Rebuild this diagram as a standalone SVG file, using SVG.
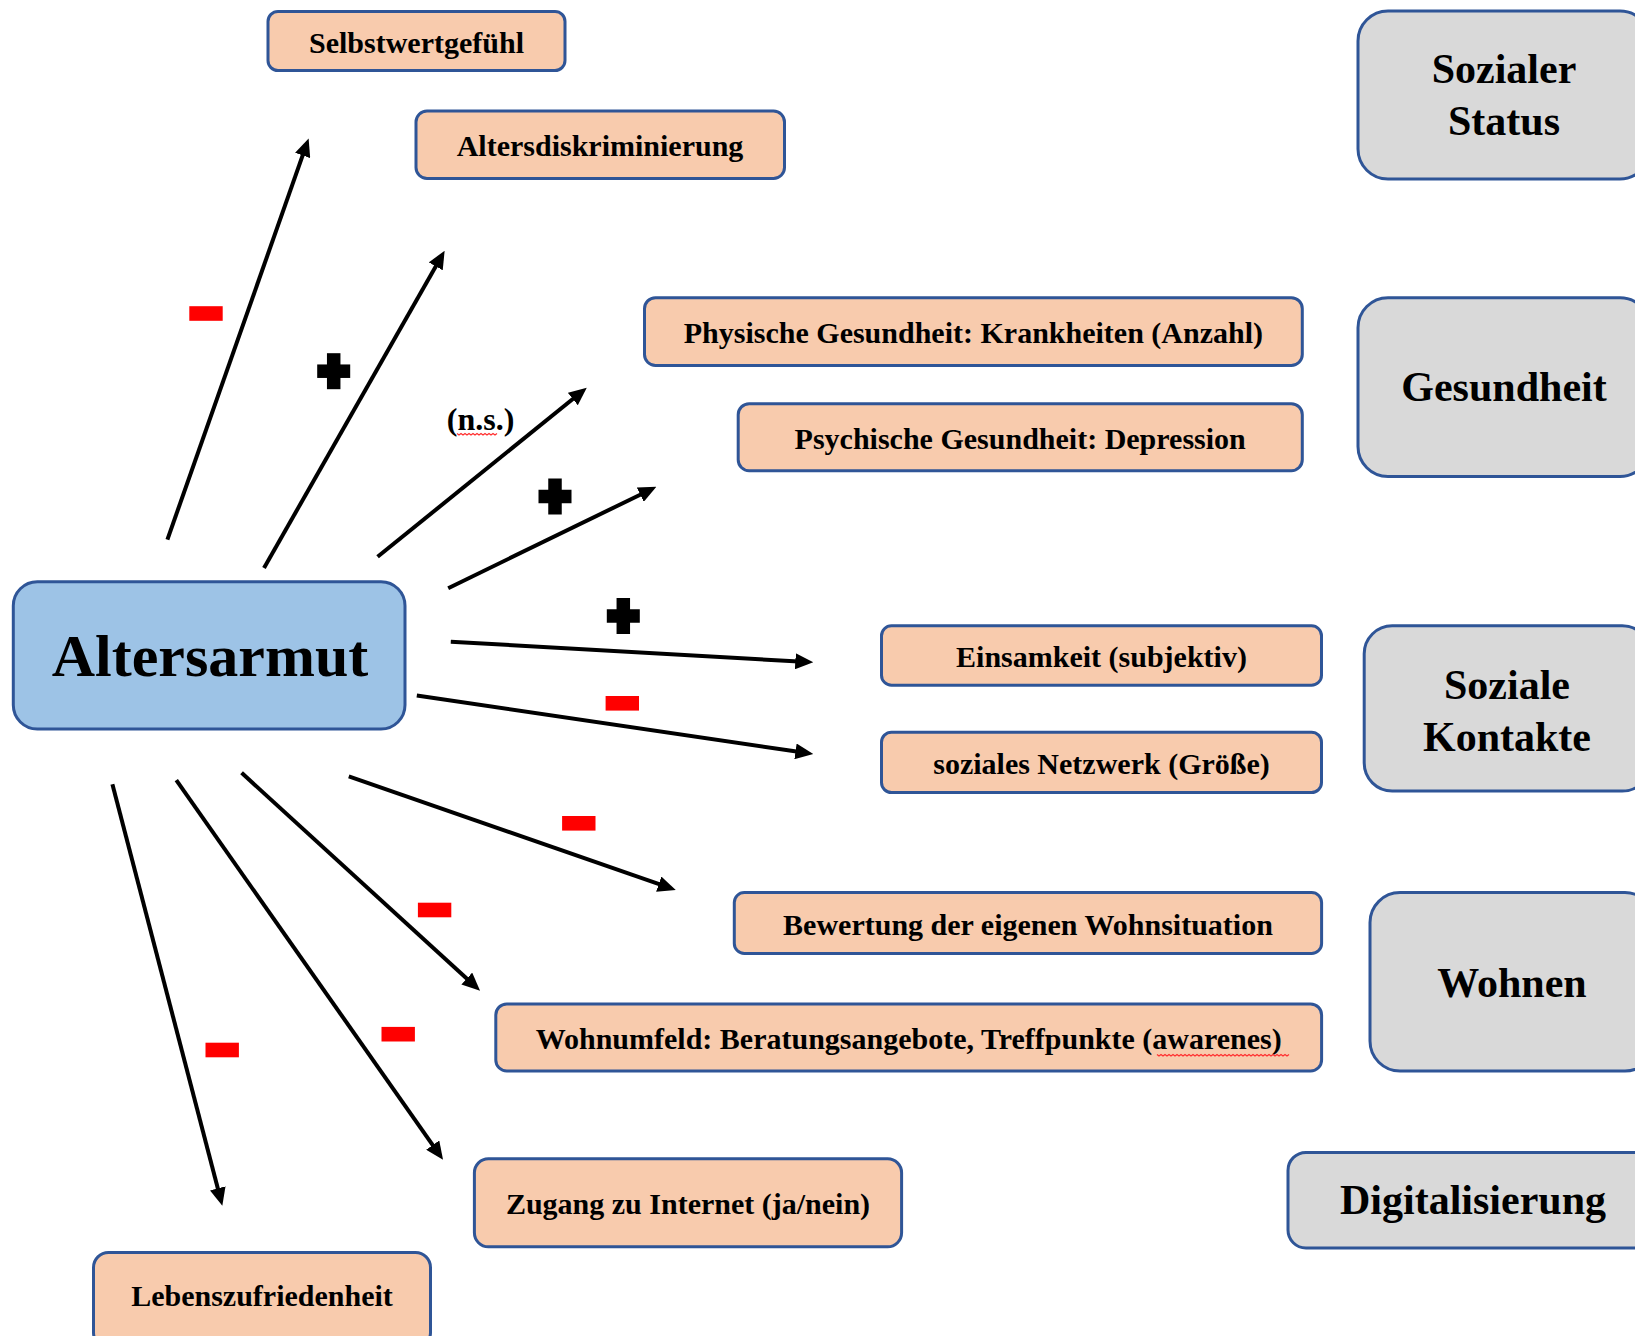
<svg xmlns="http://www.w3.org/2000/svg" xmlns:xlink="http://www.w3.org/1999/xlink" width="1635" height="1336" viewBox="0 0 1635 1336">
<style>
.ob{fill:#F8CBAD;stroke:#2F5597;stroke-width:3}
.gb{fill:#D9D9D9;stroke:#2F5597;stroke-width:3}
.bb{fill:#9DC3E6;stroke:#2F5597;stroke-width:3}
.t{font-family:"Liberation Serif","Times New Roman",serif;font-weight:bold;fill:#000;text-anchor:middle}
.ot{font-size:30px}
.gt{font-size:42px}
.mt{font-size:60px}
.c{fill:none;stroke:#000;stroke-width:4;marker-end:url(#ah)}
.sq{fill:none;stroke:#FF3030;stroke-width:1.2}
</style>
<defs>
<marker id="ah" markerUnits="userSpaceOnUse" markerWidth="18" markerHeight="16" refX="8" refY="8" orient="auto">
<path d="M0,0 L18,8 L0,16 Z" fill="#000"/>
</marker>
<g id="plus"><rect x="-16.5" y="-6.75" width="33" height="13.5" fill="#000"/><rect x="-6.75" y="-18" width="13.5" height="36" fill="#000"/></g>
<rect id="minus" x="-16.7" y="-7.3" width="33.4" height="14.6" fill="#FF0000"/>
</defs>
<rect width="1635" height="1336" fill="#FFFFFF"/>

<g id="connectors">
<line class="c" x1="167.4" y1="539.6" x2="305.3" y2="147.9"/>
<line class="c" x1="264" y1="568" x2="439.7" y2="259.4"/>
<line class="c" x1="377.6" y1="556.8" x2="579.0" y2="394.0"/>
<line class="c" x1="448.2" y1="588.2" x2="647.4" y2="491.2"/>
<line class="c" x1="450.8" y1="641.7" x2="803.3" y2="661.8"/>
<line class="c" x1="416.8" y1="695.5" x2="803.4" y2="752.6"/>
<line class="c" x1="348.8" y1="776.3" x2="666.3" y2="886.7"/>
<line class="c" x1="241.6" y1="772.8" x2="472.7" y2="983.9"/>
<line class="c" x1="176.3" y1="780.2" x2="437.3" y2="1151.6"/>
<line class="c" x1="112.4" y1="784.2" x2="219.8" y2="1196.1"/>
</g>

<g id="signs">
<use xlink:href="#minus" x="206" y="313.5"/>
<use xlink:href="#plus" x="333.7" y="371.2"/>
<use xlink:href="#plus" x="555" y="496.5"/>
<use xlink:href="#plus" x="623.3" y="616"/>
<use xlink:href="#minus" x="622.3" y="703.3"/>
<use xlink:href="#minus" x="578.8" y="823.3"/>
<use xlink:href="#minus" x="434.6" y="910"/>
<use xlink:href="#minus" x="398.2" y="1034.2"/>
<use xlink:href="#minus" x="222.2" y="1050"/>
<g id="label-ns">
<text class="t" x="480.5" y="430" style="font-size:32px">(n.s.)</text>
<path class="sq" d="M457,433.5 l2,1.5 l2,-1.5 l2,1.5 l2,-1.5 l2,1.5 l2,-1.5 l2,1.5 l2,-1.5 l2,1.5 l2,-1.5 l2,1.5 l2,-1.5 l2,1.5 l2,-1.5 l2,1.5 l2,-1.5 l2,1.5 l2,-1.5 l2,1.5 l2,-1.5"/>
</g>
</g>

<g id="node-altersarmut">
<rect class="bb" x="13.3" y="581.7" width="391.7" height="147.3" rx="24"/>
<text class="t mt" x="210" y="676">Altersarmut</text>
</g>

<g id="node-selbstwert">
<rect class="ob" x="268" y="11.5" width="297" height="59" rx="10"/>
<text class="t ot" x="416.5" y="52.5">Selbstwertgefühl</text>
</g>
<g id="node-altersdiskriminierung">
<rect class="ob" x="416" y="111" width="368.5" height="67.5" rx="11"/>
<text class="t ot" x="600" y="156">Altersdiskriminierung</text>
</g>
<g id="node-physisch">
<rect class="ob" x="644.5" y="297.7" width="657.8" height="67.8" rx="11"/>
<text class="t ot" x="973.4" y="343">Physische Gesundheit: Krankheiten (Anzahl)</text>
</g>
<g id="node-psychisch">
<rect class="ob" x="738.2" y="403.7" width="564.1" height="67" rx="11"/>
<text class="t ot" x="1020.2" y="448.7">Psychische Gesundheit: Depression</text>
</g>
<g id="node-einsamkeit">
<rect class="ob" x="881.5" y="625.8" width="440" height="59.4" rx="10"/>
<text class="t ot" x="1101.5" y="667">Einsamkeit (subjektiv)</text>
</g>
<g id="node-netzwerk">
<rect class="ob" x="881.5" y="732.2" width="440" height="60.4" rx="10"/>
<text class="t ot" x="1101.5" y="773.9">soziales Netzwerk (Größe)</text>
</g>
<g id="node-bewertung">
<rect class="ob" x="734.3" y="892.6" width="587.3" height="60.8" rx="10"/>
<text class="t ot" x="1028" y="934.5">Bewertung der eigenen Wohnsituation</text>
</g>
<g id="node-wohnumfeld">
<rect class="ob" x="495.8" y="1003.9" width="825.8" height="67.1" rx="11"/>
<text class="t ot" x="908.7" y="1048.5">Wohnumfeld: Beratungsangebote, Treffpunkte (awarenes)</text>
<path class="sq" d="M1157,1054.5 l2,1.5 l2,-1.5 l2,1.5 l2,-1.5 l2,1.5 l2,-1.5 l2,1.5 l2,-1.5 l2,1.5 l2,-1.5 l2,1.5 l2,-1.5 l2,1.5 l2,-1.5 l2,1.5 l2,-1.5 l2,1.5 l2,-1.5 l2,1.5 l2,-1.5 l2,1.5 l2,-1.5 l2,1.5 l2,-1.5 l2,1.5 l2,-1.5 l2,1.5 l2,-1.5 l2,1.5 l2,-1.5 l2,1.5 l2,-1.5 l2,1.5 l2,-1.5 l2,1.5 l2,-1.5 l2,1.5 l2,-1.5 l2,1.5 l2,-1.5 l2,1.5 l2,-1.5 l2,1.5 l2,-1.5 l2,1.5 l2,-1.5 l2,1.5 l2,-1.5 l2,1.5 l2,-1.5 l2,1.5 l2,-1.5 l2,1.5 l2,-1.5 l2,1.5 l2,-1.5 l2,1.5 l2,-1.5 l2,1.5 l2,-1.5 l2,1.5 l2,-1.5 l2,1.5 l2,-1.5 l2,1.5 l2,-1.5"/>
</g>
<g id="node-internet">
<rect class="ob" x="474.4" y="1158.8" width="427.2" height="88" rx="14"/>
<text class="t ot" x="688" y="1214">Zugang zu Internet (ja/nein)</text>
</g>
<g id="node-lebenszufriedenheit">
<rect class="ob" x="93.5" y="1252.5" width="337" height="95" rx="15"/>
<text class="t ot" x="262" y="1306">Lebenszufriedenheit</text>
</g>

<g id="cat-sozialer-status">
<rect class="gb" x="1358" y="11" width="292" height="168" rx="30"/>
<text class="t gt" x="1504" y="82.5">Sozialer</text>
<text class="t gt" x="1504" y="135">Status</text>
</g>
<g id="cat-gesundheit">
<rect class="gb" x="1358" y="297.7" width="292" height="178.8" rx="30"/>
<text class="t gt" x="1504" y="401">Gesundheit</text>
</g>
<g id="cat-soziale-kontakte">
<rect class="gb" x="1364.2" y="625.8" width="286" height="165.3" rx="28"/>
<text class="t gt" x="1507" y="698.6">Soziale</text>
<text class="t gt" x="1507" y="750.5">Kontakte</text>
</g>
<g id="cat-wohnen">
<rect class="gb" x="1370" y="892.6" width="285" height="178.4" rx="30"/>
<text class="t gt" x="1512" y="996.5">Wohnen</text>
</g>
<g id="cat-digitalisierung">
<rect class="gb" x="1288" y="1152.4" width="370" height="95.6" rx="18"/>
<text class="t gt" x="1473" y="1214">Digitalisierung</text>
</g>
</svg>
